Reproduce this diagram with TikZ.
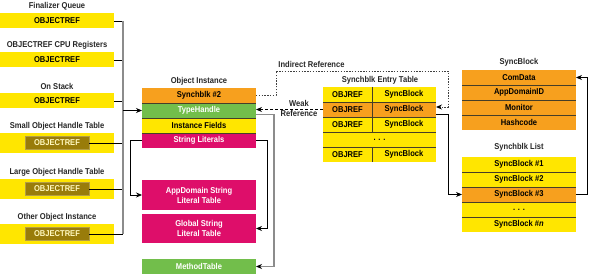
\documentclass[tikz,border=0pt]{standalone}
\usepackage{fontspec}
\setmainfont{Liberation Sans}[FakeStretch=0.89]
\usetikzlibrary{calc,arrows.meta}
\definecolor{boxyellow}{RGB}{255,230,0}
\definecolor{boxorange}{RGB}{247,160,30}
\definecolor{boxgreen}{RGB}{114,190,75}
\definecolor{boxmagenta}{RGB}{222,14,106}
\definecolor{boxolive}{RGB}{153,124,10}
\definecolor{sepline}{RGB}{70,62,40}
\definecolor{busgray}{RGB}{140,140,140}
\newcommand{\dfont}{\fontsize{8.5}{10}\selectfont\bfseries}

\begin{document}
\begin{tikzpicture}[x=1pt, y=-1pt,
  ttl/.style={font=\dfont, text=black!85, inner sep=0pt},
  cell/.style={font=\dfont, text=black, inner sep=0pt, outer sep=0pt, minimum height=15pt},
  sep/.style={draw=sepline, line width=0.8pt},
  stub/.style={draw=black, line width=0.8pt},
  bus/.style={draw=busgray, line width=1.3pt},
  link/.style={draw=black, line width=0.8pt, -{Stealth[length=6pt, width=5pt]}},
  glink/.style={draw=busgray, line width=1.3pt, -{Stealth[length=6pt, width=5pt, color=black]}},
  weak/.style={draw=black, line width=0.8pt, dash pattern=on 3pt off 2pt, -{Stealth[length=6pt, width=5pt]}},
  indirect/.style={draw=black!75, line width=0.9pt, dash pattern=on 1.4pt off 1.4pt, -{Stealth[length=6pt, width=5pt, color=black]}}]
  \useasboundingbox (0,0) rectangle (589,275);

  % Roots
  \foreach \n/\ty/\lab in {1/6/Finalizer Queue, 2/45/OBJECTREF CPU Registers, 3/86/On Stack}{
    \node[ttl] (t\n) at (57,\ty) {\lab};
    \node[cell, fill=boxyellow, minimum width=114pt] (r\n) at (57,\ty+15) {OBJECTREF};
  }
  % Handle tables
  \foreach \n/\ty/\lab in {4/126/Small Object Handle Table, 5/172/Large Object Handle Table, 6/217/Other Object Instance}{
    \node[ttl] (t\n) at (57,\ty) {\lab};
    \node[cell, fill=boxyellow, minimum width=114pt, minimum height=20pt] (r\n) at (57,\ty+17) {};
    \node[cell, fill=boxolive, draw=boxolive!75!white, line width=0.6pt, minimum width=64pt,
      minimum height=13pt, text=boxyellow!25!white] (in\n) at (r\n) {OBJECTREF};
  }

  % Object instance
  \node[ttl] (oit) at (199,81) {Object Instance};
  \node[cell, fill=boxorange, minimum width=114pt] (sb2) at (199,95.5) {Synchblk \#2};
  \node[cell, fill=boxgreen, text=white, minimum width=114pt] (th) at (199,110.5) {TypeHandle};
  \node[cell, fill=boxyellow, minimum width=114pt] (ifl) at (199,125.5) {Instance Fields};
  \node[cell, fill=boxmagenta, text=white, minimum width=114pt] (sl) at (199,140.5) {String Literals};
  \foreach \a in {th,ifl,sl}
    \draw[sep] (\a.north west) -- (\a.north east);

  \node[cell, fill=boxmagenta, text=white, align=center, minimum width=114pt, minimum height=30pt]
    (ad) at (199,195) {AppDomain String\\Literal Table};
  \node[cell, fill=boxmagenta, text=white, align=center, minimum width=114pt, minimum height=29pt]
    (gl) at (199,228.5) {Global String\\Literal Table};
  \node[cell, fill=boxgreen, text=white, minimum width=114pt] (mt) at (199,266.5) {MethodTable};

  % Entry table
  \node[ttl] (ett) at (380,80) {Synchblk Entry Table};
  \foreach \n/\cy/\fc in {1/94.5/boxyellow, 2/109.5/boxorange, 3/124.5/boxyellow, 5/154.5/boxyellow}{
    \node[cell, fill=\fc, minimum width=49pt] (ea\n) at (347.5,\cy) {OBJREF};
    \node[cell, fill=\fc, minimum width=64pt] (eb\n) at (404,\cy) {SyncBlock};
  }
  \node[cell, fill=boxyellow, minimum width=113pt] (ed) at (379.5,139.5) {.\,\,.\,\,.};
  \foreach \a in {ea2,ea3,ed,ea5}
    \draw[sep] (\a.north west) -- (\a.north west -| eb1.east);
  \draw[sep] (eb1.north west) -- (eb3.south west);
  \draw[sep] (eb5.north west) -- (eb5.south west);

  % SyncBlock
  \node[ttl] (sbt) at (519,62) {SyncBlock};
  \foreach \n/\cy/\lab in {1/77.5/ComData, 2/92.5/AppDomainID, 3/107.5/Monitor, 4/122.5/Hashcode}
    \node[cell, fill=boxorange, minimum width=114pt] (sk\n) at (519,\cy) {\lab};
  \foreach \n in {2,3,4}
    \draw[sep] (sk\n.north west) -- (sk\n.north east);

  % Synchblk list
  \node[ttl] (lstt) at (519,147) {Synchblk List};
  \foreach \n/\cy/\fc/\lab in {1/164.5/boxyellow/SyncBlock \#1, 2/179.5/boxyellow/SyncBlock \#2,
    3/194.5/boxorange/SyncBlock \#3, 4/209.5/boxyellow/.\,\,.\,\,., 5/224.5/boxyellow/SyncBlock \#\textit{n}}
    \node[cell, fill=\fc, minimum width=114pt] (lst\n) at (519,\cy) {\lab};
  \foreach \n in {2,3,4,5}
    \draw[sep] (lst\n.north west) -- (lst\n.north east);

  % Roots to object
  \coordinate (busx) at (123,0);
  \foreach \s in {r1,r2,r3,in4,in5,in6}
    \draw[stub] (\s.east) -- (\s.east -| busx);
  \draw[bus] (r1.east -| busx) -- (in6.east -| busx);
  \draw[link] (th.west -| busx) -- (th.west);

  % Object links
  \draw[link] (sl.west) -- ++(-12,0) |- (ad.west);
  \draw[link] (sl.east) -- ++(11,0) |- (gl.east);
  \draw[glink] ([yshift=-4pt]th.east) -- ++(18,0) |- (mt.east);

  % Weak and indirect references
  \draw[weak] (ea2.west) -- (ea2.west -| th.east);
  \node[ttl, align=center] (wr) at (299,108.5) {Weak\\Reference};
  \coordinate (ir1) at (276,71);
  \coordinate (ir2) at (448,71);
  \draw[indirect] (sb2.east) -| (ir1) -- (ir2) |- ([yshift=2.5pt]eb2.east);
  \node[ttl] (irl) at (311.5,64) {Indirect Reference};

  % Entry to list to block
  \draw[link] ([yshift=-5pt]eb2.east) -| ($(lst3.west)+(-14,0)$) -- (lst3.west);
  \draw[link] (lst3.east) -- ++(11,0) |- (sk1.east);
\end{tikzpicture}
\end{document}
